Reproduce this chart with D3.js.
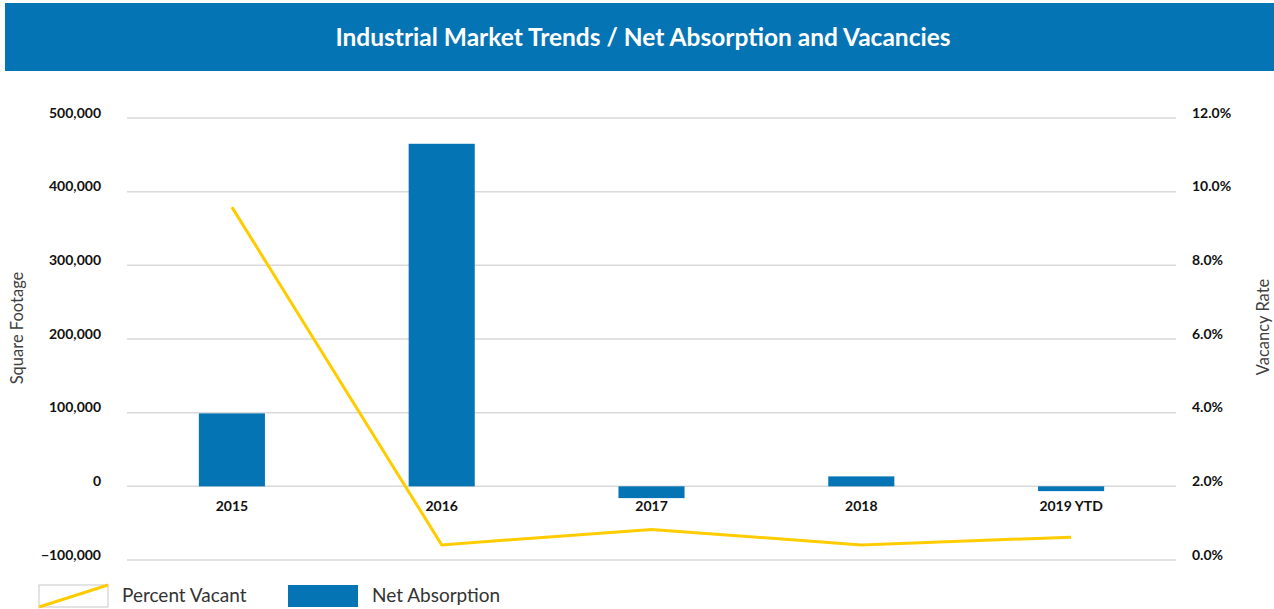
<!DOCTYPE html>
<html>
<head>
<meta charset="utf-8">
<script src="https://cdn.jsdelivr.net/npm/d3@7"></script>
<style>
  body { margin: 0; background: #fff; }
  text { font-family: Lato, "Open Sans", sans-serif; }
</style>
</head>
<body>
<div id="chart"></div>
<script>
/* Industrial market trends - bars + vacancy line */

const categories = ["2015", "2016", "2017", "2018", "2019 YTD"];
const netAbsorption = [99000, 465000, -16000, 13500, -6500];
const percentVacant = [0.0958, 0.0041, 0.0083, 0.0041, 0.0062];
const leftTicks = [-100000, 0, 100000, 200000, 300000, 400000, 500000];
const rightTicks = [0, 0.02, 0.04, 0.06, 0.08, 0.10, 0.12];

const width = 1274,
    height = 609,
    margin = ({ top: 118, right: 98, bottom: 49, left: 127 });

const blue = "#0474b4",
    yellow = "#ffcc00";

const svg = d3.select("#chart")
    .append("svg")
    .attr("width", width)
    .attr("height", height);

// title banner
svg.append("rect")
    .attr("x", 5).attr("y", 3)
    .attr("width", width - 5).attr("height", 68)
    .attr("fill", blue);

svg.append("text")
    .attr("x", 643).attr("y", 37)
    .attr("dy", "0.35em")
    .attr("text-anchor", "middle")
    .attr("fill", "#fff")
    .attr("font-weight", "bold")
    .attr("font-size", 24.5)
    .text("Industrial Market Trends / Net Absorption and Vacancies");

let x = d3.scaleBand()
    .domain(categories)
    .range([margin.left, width - margin.right])
    .paddingInner(0.685)
    .paddingOuter(0.3425);

let y = d3.scaleLinear()
    .domain([-100000, 500000])
    .range([height - margin.bottom, margin.top]);

let y2 = d3.scaleLinear()
    .domain([0, 0.12])
    .range([height - margin.bottom, margin.top]);

// gridlines
svg.append("g")
  .selectAll("line")
  .data(leftTicks)
  .join("line")
    .attr("x1", margin.left)
    .attr("x2", width - margin.right)
    .attr("y1", d => y(d))
    .attr("y2", d => y(d))
    .attr("stroke", "#d9d9d9")
    .attr("stroke-width", 1.5);

// left axis labels
svg.append("g")
    .attr("transform", `translate(${margin.left - 26},0)`)
    .call(d3.axisLeft(y).tickValues(leftTicks).tickSize(0).tickPadding(0)
        .tickFormat(d => d3.format(",")(d)))
    .call(g => g.select(".domain").remove())
    .call(g => g.selectAll("text")
        .attr("dy", "-0.05em")
        .attr("font-family", "Lato, sans-serif")
        .attr("font-weight", "bold")
        .attr("font-size", 14)
        .attr("fill", "#111"));

// right axis labels
svg.append("g")
    .attr("transform", `translate(${width - margin.right + 16},0)`)
    .call(d3.axisRight(y2).tickValues(rightTicks).tickSize(0).tickPadding(0)
        .tickFormat(d3.format(".1%")))
    .call(g => g.select(".domain").remove())
    .call(g => g.selectAll("text")
        .attr("dy", "-0.05em")
        .attr("font-family", "Lato, sans-serif")
        .attr("font-weight", "bold")
        .attr("font-size", 14)
        .attr("fill", "#111"));

// bars
svg.append("g")
  .selectAll("rect")
  .data(netAbsorption)
  .join("rect")
    .attr("x", (d, i) => x(categories[i]))
    .attr("width", x.bandwidth())
    .attr("y", d => y(Math.max(0, d)))
    .attr("height", d => Math.abs(y(d) - y(0)))
    .attr("fill", blue);

// category labels
svg.append("g")
    .attr("transform", `translate(0,${y(0) + 15})`)
    .call(d3.axisBottom(x).tickSize(0).tickPadding(0))
    .call(g => g.select(".domain").remove())
    .call(g => g.selectAll("text")
        .attr("dy", "0.71em")
        .attr("font-family", "Lato, sans-serif")
        .attr("font-weight", "bold")
        .attr("font-size", 14)
        .attr("fill", "#111"));

// vacancy line
let line = d3.line()
    .x((d, i) => x(categories[i]) + x.bandwidth() / 2)
    .y(d => y2(d));

svg.append("path")
    .datum(percentVacant)
    .attr("d", line)
    .attr("fill", "none")
    .attr("stroke", yellow)
    .attr("stroke-width", 3);

// axis titles
svg.append("text")
    .attr("transform", "translate(17,328) rotate(-90)")
    .attr("text-anchor", "middle")
    .attr("dy", "0.35em")
    .attr("font-size", 16.5)
    .attr("fill", "#404040")
    .text("Square Footage");

svg.append("text")
    .attr("transform", "translate(1263,327) rotate(-90)")
    .attr("text-anchor", "middle")
    .attr("dy", "0.35em")
    .attr("font-size", 16.5)
    .attr("fill", "#404040")
    .text("Vacancy Rate");

// legend
let legend = svg.append("g");

legend.append("rect")
    .attr("x", 39).attr("y", 585)
    .attr("width", 69).attr("height", 22)
    .attr("fill", "#fff")
    .attr("stroke", "#c8c8c8");

legend.append("line")
    .attr("x1", 39).attr("y1", 607)
    .attr("x2", 108).attr("y2", 585)
    .attr("stroke", yellow)
    .attr("stroke-width", 3);

legend.append("text")
    .attr("x", 122).attr("y", 595)
    .attr("dy", "0.35em")
    .attr("font-size", 19)
    .attr("fill", "#333")
    .text("Percent Vacant");

legend.append("rect")
    .attr("x", 288).attr("y", 585)
    .attr("width", 70).attr("height", 22)
    .attr("fill", blue);

legend.append("text")
    .attr("x", 372).attr("y", 595)
    .attr("dy", "0.35em")
    .attr("font-size", 19)
    .attr("fill", "#333")
    .text("Net Absorption");
</script>
</body>
</html>
